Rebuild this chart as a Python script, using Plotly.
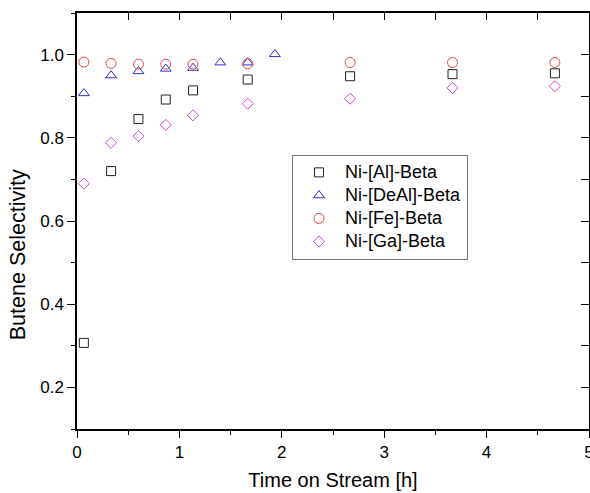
import plotly.graph_objects as go

# Time on stream (h) at each sampling point
time_h = [0.067, 0.333, 0.600, 0.867, 1.133, 1.400, 1.667, 1.933, 2.667, 3.667, 4.667]

# Butene selectivity per catalyst (None = not measured)
sel_al = [0.307, 0.720, 0.845, 0.892, 0.914, None, 0.940, None, 0.948, 0.953, 0.955]
sel_deal = [0.907, 0.950, 0.960, 0.966, 0.968, 0.981, 0.981, 1.001, None, None, None]
sel_fe = [0.982, 0.979, 0.977, 0.977, 0.977, None, 0.978, None, 0.981, 0.981, 0.981]
sel_ga = [0.690, 0.788, 0.804, 0.831, 0.854, None, 0.882, None, 0.894, 0.920, 0.924]

series_names = ["Ni-[Al]-Beta", "Ni-[DeAl]-Beta", "Ni-[Fe]-Beta", "Ni-[Ga]-Beta"]
series_values = [sel_al, sel_deal, sel_fe, sel_ga]
symbols = ["square-open", "triangle-up-open", "circle-open", "diamond-open"]
colors = ["#222222", "#3030c8", "#e04848", "#e040e0"]
sizes = [9, 9.5, 10, 8.5]

x_ticks = [0, 1, 2, 3, 4, 5]
y_ticks = [0.2, 0.4, 0.6, 0.8, 1.0]
y_tick_text = ["0.2", "0.4", "0.6", "0.8", "1.0"]

FONT = "Liberation Sans, Arial, sans-serif"

fig = go.Figure()
for name, vals, sym, col, sz in zip(series_names, series_values, symbols, colors, sizes):
    fig.add_trace(go.Scatter(
        x=time_h, y=vals, mode="markers",
        name=f'<span style="font-size:18px">{name}</span>',
        marker=dict(symbol=sym, size=sz, color=col, line=dict(width=1, color=col)),
    ))

# invisible trace that carries the mirrored top/right axes
fig.add_trace(go.Scatter(x=[0], y=[0.1], xaxis="x2", yaxis="y2", mode="markers",
                         marker=dict(opacity=0), showlegend=False, hoverinfo="skip"))

axis_common = dict(showline=True, linecolor="black", linewidth=1.5, showgrid=False,
                   zeroline=False, tickcolor="black", tickwidth=1.2)

fig.update_layout(
    width=590, height=493,
    margin=dict(l=77, r=1, t=13, b=64),
    paper_bgcolor="white", plot_bgcolor="white",
    font=dict(family=FONT, color="black", size=17),
    showlegend=True,
    legend=dict(
        x=0.42, y=0.659, xanchor="left", yanchor="top",
        bordercolor="#777777", borderwidth=1, bgcolor="white",
        font=dict(size=15.4, family=FONT), itemwidth=42, tracegroupgap=0,
        itemsizing="trace",
    ),
    xaxis=dict(
        range=[0, 5], tickvals=x_ticks, ticks="outside", ticklen=7,
        ticklabeloverflow="allow",
        minor=dict(dtick=0.5, tick0=0, ticks="outside", ticklen=4, tickcolor="black"),
        title=dict(text="Time on Stream [h]", font=dict(size=20), standoff=12),
        automargin=False, **axis_common,
    ),
    yaxis=dict(
        range=[0.1, 1.1], tickvals=y_ticks, ticktext=y_tick_text, ticks="outside", ticklen=8,
        minor=dict(dtick=0.1, tick0=0.1, ticks="outside", ticklen=4, tickcolor="black"),
        automargin=False, **axis_common,
    ),
    xaxis2=dict(
        overlaying="x", side="top", range=[0, 5], dtick=0.5, tick0=0,
        ticks="inside", ticklen=7, showticklabels=False, automargin=False, **axis_common,
    ),
    yaxis2=dict(
        overlaying="y", side="right", range=[0.1, 1.1], dtick=0.1, tick0=0.1,
        ticks="inside", ticklen=8, showticklabels=False, automargin=False, **axis_common,
    ),
    annotations=[dict(
        text="Butene Selectivity", textangle=-90, font=dict(size=21.5, family=FONT),
        xref="paper", yref="paper", x=-0.115, y=0.418,
        xanchor="center", yanchor="middle", showarrow=False,
    )],
)

fig.write_html("out.html")
